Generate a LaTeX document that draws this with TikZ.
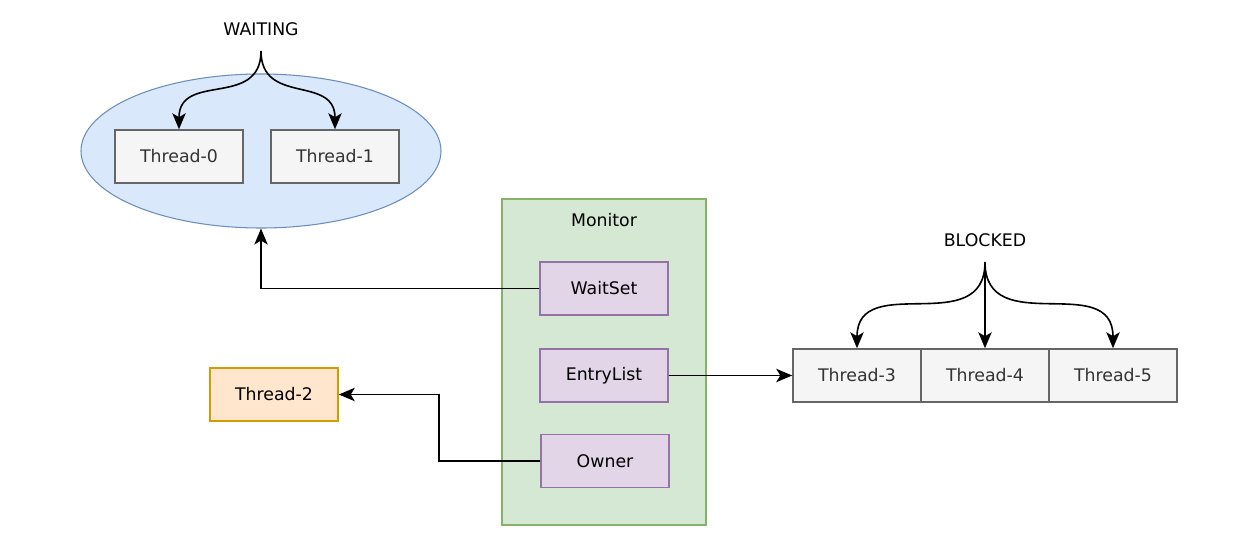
\documentclass[tikz,border=0pt]{standalone}
\usepackage{fontspec}
\setmainfont{DejaVu Sans}
\usetikzlibrary{shapes.geometric,arrows.meta}
\definecolor{poolfill}{HTML}{DAE8FC}
\definecolor{poolline}{HTML}{6C8EBF}
\definecolor{monfill}{HTML}{D5E8D4}
\definecolor{monline}{HTML}{82B366}
\definecolor{fieldfill}{HTML}{E1D5E7}
\definecolor{fieldline}{HTML}{9673A6}
\definecolor{threadfill}{HTML}{F5F5F5}
\definecolor{threadline}{HTML}{666666}
\definecolor{threadtext}{HTML}{333333}
\definecolor{ownfill}{HTML}{FFE6CC}
\definecolor{ownline}{HTML}{D79B00}
\begin{document}
\begin{tikzpicture}[x=0.75pt,y=-0.75pt, every node/.style={font=\fontsize{13}{15}\selectfont},
  thread/.style={draw=threadline,fill=threadfill,line width=1.1pt,minimum width=96pt,minimum height=39.75pt,text=threadtext},
  field/.style={draw=fieldline,fill=fieldfill,line width=1.1pt,minimum width=96pt,minimum height=39.75pt},
  link/.style={-{Stealth[length=12pt,width=10pt,inset=3pt]},line width=1.2pt}]
\useasboundingbox (0,0) rectangle (1253,556);
% waiting threads
\node[ellipse,draw=poolline,fill=poolfill,line width=0.8pt,minimum width=270pt,minimum height=115.5pt] (pool) at (261,151) {};
\node (waiting) at (261,29) {WAITING};
\coordinate (waitfork) at (261,51);
\node[thread] (t0) at (179,156.5) {Thread-0};
\node[thread] (t1) at (335,156.5) {Thread-1};
\draw[link] (waitfork) to[out=-90,in=90,looseness=1.3] (t0.north);
\draw[link] (waitfork) to[out=-90,in=90,looseness=1.3] (t1.north);
% monitor
\node[draw=monline,fill=monfill,line width=1.1pt,minimum width=153pt,minimum height=244.5pt] (mon) at (604,362) {};
\node (monlabel) at (604,220) {Monitor};
\node[field] (ws) at (604,288.5) {WaitSet};
\node[field] (el) at (604,375.5) {EntryList};
\node[field] (own) at (605,461) {Owner};
% owner thread
\node[thread,draw=ownline,fill=ownfill,text=black] (t2) at (274,394.5) {Thread-2};
% blocked threads
\node (blocked) at (985,240) {BLOCKED};
\coordinate (blockfork) at (985,262);
\node[thread] (t3) at (857,375.5) {Thread-3};
\node[thread] (t4) at (985,375.5) {Thread-4};
\node[thread] (t5) at (1113,375.5) {Thread-5};
\draw[link] (blockfork) to[out=-90,in=90,looseness=1.3] (t3.north);
\draw[link] (blockfork) -- (t4.north);
\draw[link] (blockfork) to[out=-90,in=90,looseness=1.3] (t5.north);
% links
\draw[link] (ws.west) -| (pool.south);
\draw[link] (el.east) -- (t3.west);
\draw[link] (own.west) -- ++(-101,0) |- (t2.east);
\end{tikzpicture}
\end{document}
